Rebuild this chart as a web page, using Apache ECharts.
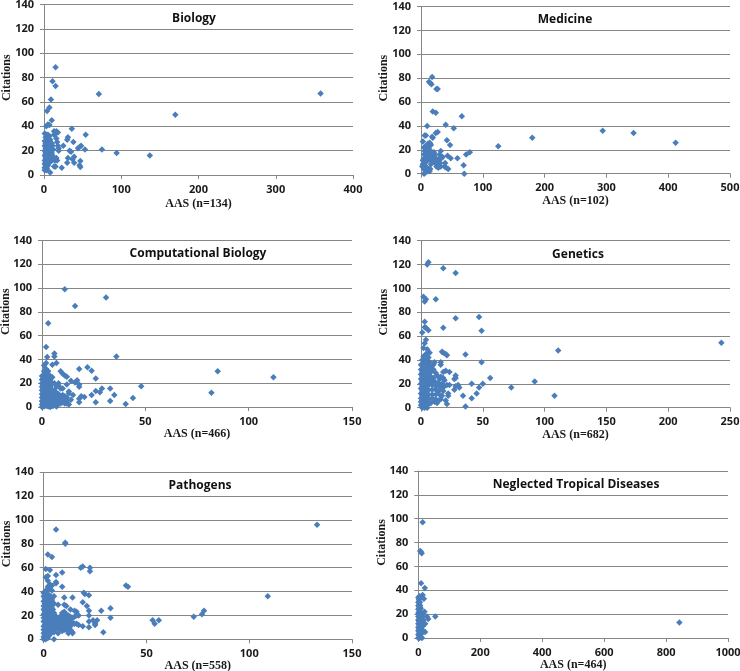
<!DOCTYPE html>
<html><head><meta charset="utf-8">
<style>html,body{margin:0;padding:0;background:#fff}#c{width:740px;height:671px}</style>
<script src="https://cdn.jsdelivr.net/npm/echarts@6/dist/echarts.min.js"></script>
</head><body><div id="c"></div>
<script>
const citationTicks = [0,20,40,60,80,100,120,140];
const panelTitles = ["Biology","Medicine","Computational Biology","Genetics","Pathogens","Neglected Tropical Diseases"];
const xAxisLabels = ["AAS (n=134)","AAS (n=102)","AAS (n=466)","AAS (n=682)","AAS (n=558)","AAS (n=464)"];
const xMaxima = [400,500,150,250,150,1000];
const xIntervals = [100,100,50,50,50,200];

const biologyPoints = [[358,67],[170,49.5],[137,16],[94,18],[75,21],[71,66.5],[15,88.5],[11,77],[15,73],[9,62],[7,55.5],[4,52.5],[10,45],[3,40],[5,41.5],[7,41],[36,38],[54,33],[53,21],[48,24],[46,23],[44,22],[38,27],[31,31],[30,29],[33,20],[35,19],[25,24],[31,14],[30,10],[37,13],[39,15],[39,10],[46,8],[47,11.5],[47,6.5],[23,6],[19,20],[18,35],[16,36],[13,36],[13,33],[15,34],[16,30],[17,27],[18,24],[19,22],[16,14],[17,12],[15,7],[13,7],[8,2],[14,12],
[1,34],[3,33],[5,33],[7,32],[2,31],[4,30],[6,30],[8,29],[1,28],[3,28],[5,27],[7,27],[9,26],[10,26],[2,26],[4,25],[6,25],[8,24],[11,24],[1,24],[3,23],[5,23],[7,22],[2,22],[4,21],[6,20],[9,20],[12,21],[1,20],[3,19],[5,18],[8,18],[10,18],[2,18],[4,17],[7,16],[11,16],[1,16],[3,15],[6,15],[9,14],[12,13],[2,14],[4,13],[5,12],[8,12],[10,12],[1,12],[3,11],[6,11],[2,10],[4,10],[7,10],[1,9],[3,8],[5,8],[2,7],[4,7],[1,6],[3,6],[2,5],[4,5],[3,4],[1,4]];

const medicinePoints = [[412,26],[344,34],[294,36],[180,30],[125,23],[79,18],[73,16],[69,7],[70,0],[66,48],[59,13],[53,38],[48,13],[47,24],[42,28],[40,41],[43,15],[39,9],[41,5],[44,4],[38,6],[35,14],[32,19],[30,16],[27,35],[24,34],[24,51],[19,52],[18,81],[13,77],[15,76],[17,75],[25,71],[27,71],[10,40],[6,32],[8,32],[3,27],[18,31],[19,30],
[33,13],[31,9],[28,12],[27,10],[26,8],[25,6],[28,5],[32,6],[24,11],[23,9],[22,14],[21,18],[22,16],[20,12],[19,10],[18,17],[17,14],[16,11],[15,25],[14,26],[16,24],[13,24],[11,25],[9,23],[7,23],[5,22],[12,22],[10,21],[8,20],[6,19],[14,20],[12,19],[10,18],[7,17],[5,16],[13,16],[11,15],[9,14],[6,13],[4,12],[12,12],[10,11],[8,10],[3,11],[6,9],[3,8],[5,7],[2,6],[8,6],[5,4],[9,5],[7,3],[11,3],[13,4],[15,4],[14,2],[10,2],[5,0],[7,1],[16,8]];

const compBioPoints = [[112,25],[85,30],[82,12],[48,17.5],[44,7.5],[40.5,2.5],[36,42.5],[35,10],[33,5],[33,15.5],[29,15.5],[28,12.5],[26,24],[26,13.5],[26,4],[24,10],[24,30.5],[22,33.5],[20.5,8.5],[18,32],[18,19],[18,17],[18,7],[18,4],[19,9],[17,22.5],[16,20.5],[14,22],[15,10],[13,13],[13,11.5],[14,6],[13,2],[31,92],[11,99],[16,85],[3,70.5],[2,50.5],[6,45],[6,42.5],[2.5,42],[7,37],[5,35.5],[2,37],[1,35],[9,30],[10,28],[11,26.5],[12,25.5],[12,19],[10,15.5],[9,15.5],[8,20],[8,18],[7,17],
[0,26],[1,27],[2,32],[3,30],[1,30],[2,28],[3,27],[4,26],[5,25],[0,23],[1,24],[2,25],[3,24],[4,23],[0,20],[1,21],[2,22],[3,21],[4,20],[5,20],[6,20],[0,17],[1,18],[2,19],[3,18],[4,17],[0,14],[1,15],[2,16],[3,15],[4,14],[5,13],[6,14],[0,11],[1,12],[2,13],[3,12],[4,11],[5,10],[6,11],[7,12],[8,11],[0,8],[1,9],[2,10],[3,9],[4,8],[5,7],[6,8],[7,9],[8,8],[9,9],[10,10],[11,9],[12,8],[0,5],[1,6],[2,7],[3,6],[4,5],[5,4],[6,5],[7,6],[8,5],[9,6],[10,7],[11,6],[12,5],[0,2],[1,3],[2,4],[3,3],[4,2],[5,1],[6,2],[7,0.5],[8,3],[9,3],[10,4],[11,3],[12,3],[0,0],[1,0.5],[2,1],[3,0.5],[4,0],
[0.5,24],[1.5,22],[2.5,20],[3.5,19],[0.5,19],[1.5,17],[2.5,17],[3.5,16],[4.5,15],[0.5,16],[1.5,13],[2.5,14],[3.5,13],[4.5,12],[5.5,9],[6.5,10],[7.5,10],[0.5,13],[1.5,10],[2.5,11],[3.5,10],[4.5,9],[0.5,10],[1.5,7],[2.5,8],[3.5,7],[4.5,6],[5.5,6],[6.5,7],[7.5,7],[8.5,7],[9.5,8],[0.5,7],[1.5,4],[2.5,5],[3.5,4],[4.5,3],[5.5,3],[6.5,3],[7.5,4],[8.5,4],[0.5,4],[1.5,2],[2.5,2],[3.5,1],[4.5,1],[5.5,1]];

const geneticsPoints = [[243,54.5],[111,48],[108,10],[92,22],[73,17],[56,25],[50,20],[49,64.5],[47,76],[49,38],[47,17],[45,12],[41,20],[41,8],[36,44.5],[36,1],[34,10],[28,113],[18,117],[6,122],[5,120],[12,91],[2,93],[4,91],[3,89],[28,75],[18,67],[3,72],[3,67.5],[4,67],[6,65],[1,63],[4,57],[3,54],[2,50],[5,49],[17,47],[18,46],[20,45],[21,44],[16,38],[16,36],[28,27],[28,25],[27,24],[30,19],[28,18],[31,17],[27,15],[23,30],[20,31],[18,30],[23,19],[21,19],[22,12],[22,10],[20,6],[21,3],
[7,46],[4,45],[2,43],[6,42],[1,40],[3,40],[5,39],[7,38],[11,38],[10,36],[0,36],[2,37],[4,36],[6,35],[8,34],[10,32],[0,32],[2,33],[4,32],[6,31],[8,30],[12,29],[13,27],[16,26],[18,25],[15,24],[19,23],[0,28],[2,29],[4,28],[6,27],[8,26],[10,25],[0,24],[2,25],[4,24],[6,23],[8,22],[11,22],[14,21],[17,20],[19,18],[0,20],[2,21],[4,20],[6,19],[9,19],[12,18],[15,18],[17,16],[0,16],[2,17],[4,16],[6,15],[9,15],[12,15],[14,14],[18,14],[0,12],[2,13],[4,12],[6,11],[9,11],[12,11],[15,11],[17,10],[0,8],[2,9],[4,8],[6,7],[9,8],[12,7],[14,6],[16,7],[0,5],[2,5],[4,4],[6,3],[11,5],[13,4],[0,2],[2,2],[4,1],[5,0],[1,0],[3,0],[8,4],
[1,30],[3,30],[5,30],[1,26],[3,26],[5,25],[1,22],[3,22],[5,22],[1,18],[3,18],[5,18],[1,14],[3,14],[5,14],[1,10],[3,10],[5,10],[1,6],[3,6],[5,6],[1,3],[3,3],[5,2]];

const pathogensPoints = [[133,96],[109,36],[78,24],[77,21],[73,19],[56,16],[54,13],[53,16],[41,44],[40,45],[32.5,26],[32.5,18],[29,6],[28,24],[26,16],[24,16],[25,13],[25,12],[22.5,60],[22.5,57],[19,61],[18,60],[6,92],[10.5,81],[10.5,80],[2,71],[4,69],[1,59],[3,58],[9,56],[6,54],[2,53],[1,52],[6,48],[6,47],[9,44],[19.5,39],[20,38],[22,37],[19,31],[21,28],[22,24],[22,20],[22,15],[22,10],[19,11],[17,12],[16,13],[17,20],[16,23],[15,24],[14,35],[10,35],[10,29],[11,28],[13,25],[14,14],[14,6],[14,5],[13,8],[12,5],[7,5],[5,0],[7,29],[5,30],[5,36],
[2,49],[3,46],[4,45],[2,44],[3,42],[4,41],[1,41],[0,39],[1,38],[2,38],[0,36],[1,35],[2,35],[3,34],[4,33],[0,32],[1,31],[2,31],[3,30],[0,28],[1,28],[2,27],[3,27],[4,26],[0,25],[1,24],[2,24],[3,23],[4,23],[5,22],[0,21],[1,21],[2,20],[3,20],[4,20],[5,19],[6,19],[7,18],[9,22],[10,23],[11,21],[12,20],[13,19],[0,18],[1,18],[2,17],[3,17],[4,16],[5,16],[6,16],[7,15],[8,16],[9,17],[10,18],[11,17],[12,16],[0,15],[1,14],[2,14],[3,14],[4,13],[5,13],[6,13],[7,12],[8,13],[9,12],[11,13],[12,13],[0,11],[1,11],[2,11],[3,10],[4,10],[5,10],[6,9],[8,9],[10,8],[0,8],[1,8],[2,7],[3,7],[4,7],[5,6],[0,5],[1,5],[2,4],[3,4],[0,2],[1,2],[2,1],[0,0],[1,0],
[0.5,38],[1.5,37],[2.5,36],[3.5,36],[0.5,34],[1.5,33],[2.5,33],[3.5,32],[4.5,29],[0.5,30],[1.5,29],[2.5,29],[3.5,28],[0.5,26],[1.5,26],[2.5,25],[3.5,25],[4.5,25],[0.5,23],[1.5,22],[2.5,22],[3.5,21],[4.5,21],[5.5,20],[0.5,20],[1.5,19],[2.5,18],[3.5,18],[4.5,18],[5.5,17],[6.5,17],[0.5,16],[1.5,16],[2.5,15],[3.5,15],[4.5,15],[5.5,14],[6.5,14],[7.5,14],[0.5,12],[1.5,12],[2.5,12],[3.5,12],[4.5,11],[5.5,11],[6.5,11],[0.5,9],[1.5,9],[2.5,9],[3.5,8],[4.5,8],[0.5,6],[1.5,6],[2.5,6],[3.5,5],[0.5,3],[1.5,3],[2.5,3],
[8,19],[9,20],[10,20],[11,19],[12,18],[13,17],[14,18],[15,19],[16,20],[8,14],[9,15],[10,15],[11,15],[13,14],[15,13],[6,11.5],[7,10],[8,11],[9,10],[10,11],[11,10],[12,10],[13,11],[7,8],[9,7],[11,8]];

const tropicalPoints = [[843,13],[55,18],[32,16],[28,18],[14,97],[6,73],[9,72],[11,71],[9,46],[21,42],[14,36],[18,33],[4,35],[8,34],[20,22],[22,12],[22,5],[15,5],
[0,34],[2,32],[5,30],[0,30],[3,28],[6,27],[0,27],[2,25],[5,24],[8,25],[0,24],[3,22],[6,22],[10,21],[13,20],[0,21],[2,20],[5,19],[9,18],[14,18],[0,18],[3,17],[7,16],[11,16],[16,15],[0,15],[2,14],[5,14],[9,13],[13,13],[0,12],[3,11],[6,11],[11,10],[15,10],[0,9],[2,8],[5,8],[9,7],[13,7],[0,6],[3,5],[7,5],[11,4],[0,3],[2,2],[5,2],[8,1],[12,0],[0,0],[4,0]];

const allPoints = [biologyPoints,medicinePoints,compBioPoints,geneticsPoints,pathogensPoints,tropicalPoints];
const frames = [[44,4.5,309,170.5],[421,6.5,309,167.2],[42,240.5,310,166.5],[421,240.7,309,167],[43.7,472.3,308.3,167],[418.3,471,309.7,167]];
const titleCentres = [[194,21],[565,22],[198,256],[578,257],[200,488],[576,487]];
const xNameGaps = [23,21,21,21,21,21];
const yNameGaps = [31,31,30,31,31,30];

const tickFont = {fontFamily:'"Open Sans"',fontWeight:700,fontSize:11,color:'#1a1a1a'};
const nameFont = {fontFamily:'"Liberation Serif"',fontWeight:700,fontSize:12,color:'#1a1a1a'};
const axisStroke = {color:'#868686',width:1};

const chart = echarts.init(document.getElementById('c'),null,{renderer:'canvas'});
chart.setOption({
  animation:false,
  backgroundColor:'#fff',
  title: panelTitles.map((t,i)=>({text:t,left:titleCentres[i][0],top:titleCentres[i][1]-8,textAlign:'center',padding:0,
    textStyle:{fontFamily:'"Open Sans"',fontWeight:700,fontSize:12,color:'#111'}})),
  grid: frames.map(f=>({left:f[0],top:f[1],width:f[2],height:f[3],containLabel:false,outerBoundsMode:'none'})),
  xAxis: xMaxima.map((m,i)=>({type:'value',gridIndex:i,min:0,max:m,interval:xIntervals[i],
    name:xAxisLabels[i],nameLocation:'middle',nameGap:xNameGaps[i],nameMoveOverlap:false,nameTextStyle:nameFont,
    splitLine:{show:false},axisLine:{show:true,lineStyle:axisStroke,onZero:false},
    axisTick:{show:true,length:4,lineStyle:axisStroke},
    axisLabel:{...tickFont,margin:9,hideOverlap:false,formatter:v=>String(v)}})),
  yAxis: frames.map((f,i)=>({type:'value',gridIndex:i,min:citationTicks[0],max:citationTicks[citationTicks.length-1],interval:citationTicks[1],
    name:'Citations',nameLocation:'middle',nameGap:yNameGaps[i],nameRotate:90,nameMoveOverlap:false,
    nameTextStyle:{...nameFont,padding:[0,0,0,24]},
    splitLine:{show:true,lineStyle:axisStroke},axisLine:{show:true,lineStyle:axisStroke},
    axisTick:{show:true,length:4,lineStyle:axisStroke},axisLabel:{...tickFont,margin:10,hideOverlap:false}})),
  series: allPoints.map((p,i)=>({type:'scatter',xAxisIndex:i,yAxisIndex:i,data:p,symbol:'diamond',symbolSize:6.5,
    clip:false,itemStyle:{color:'#4a7ebb',opacity:1}}))
});
</script></body></html>
